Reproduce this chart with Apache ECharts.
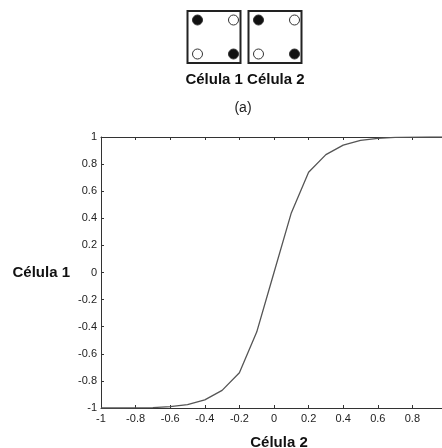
<!DOCTYPE html>
<html><head><meta charset="utf-8">
<script src="https://cdn.jsdelivr.net/npm/echarts@6/dist/echarts.min.js"></script>
<style>html,body{margin:0;padding:0;background:#fff}#c{width:442px;height:448px}</style>
</head><body><div id="c"></div>
<script>
const xValues = [-1,-0.9,-0.8,-0.7,-0.6,-0.5,-0.4,-0.3,-0.2,-0.1,0,0.1,0.2,0.3,0.4,0.5,0.6,0.7,0.8,0.9,1];
const yValues = [-1,-1,-0.999,-0.997,-0.99,-0.975,-0.94,-0.87,-0.74,-0.44,0,0.44,0.74,0.87,0.94,0.975,0.99,0.997,0.999,1,1];
const xTickLabels = {"-1":"-1","-0.8":"-0.8","-0.6":"-0.6","-0.4":"-0.4","-0.2":"-0.2","0":"0","0.2":"0.2","0.4":"0.4","0.6":"0.6","0.8":"0.8","1":"1"};
const yTickLabels = {"-1":"-1","-0.8":"-0.8","-0.6":"-0.6","-0.4":"-0.4","-0.2":"-0.2","0":"0","0.2":"0.2","0.4":"0.4","0.6":"0.6","0.8":"0.8","1":"1"};
const xName = "Célula 2";
const yName = "Célula 1";
const cellLabels = "Célula 1 Célula 2";
const caption = "(a)";

const FONT = "'Liberation Sans', Arial, sans-serif";
const fmt = (map) => (v) => { const k = String(Math.round(v*10)/10); return map[k] !== undefined ? map[k] : k; };
const chart = echarts.init(document.getElementById('c'));
const dots = [];
function cell(x0, fills) {
  dots.push({type:'rect', shape:{x:x0, y:11, width:53, height:52}, style:{fill:'#fff', stroke:'#222', lineWidth:2}});
  const pos = [[10,9],[46,9],[10,43],[46,43]];
  pos.forEach((p,i)=>dots.push({type:'circle', shape:{cx:x0+p[0], cy:11+p[1], r:5},
    style:{fill: fills[i] ? '#111' : '#fff', stroke:'#333', lineWidth:1}}));
}
cell(187.5, [1,0,0,1]);
cell(248.5, [1,0,0,1]);
dots.push({type:'text', x:245, y:80, style:{text:cellLabels, font:'bold 15px '+FONT, fill:'#111', textAlign:'center', textVerticalAlign:'middle'}});
dots.push({type:'text', x:243, y:108, style:{text:caption, font:'14px '+FONT, fill:'#222', textAlign:'center', textVerticalAlign:'middle'}});

const axisLine = {onZero:false, lineStyle:{color:'#333', width:1}};
chart.setOption({
  animation:false,
  backgroundColor:'#fff',
  graphic: dots,
  grid:{left:101, top:137, width:346, height:271, containLabel:false, outerBoundsMode:'none'},
  xAxis:[{
    type:'value', min:-1, max:1, interval:0.2, position:'bottom',
    axisLine:axisLine, axisTick:{inside:true, length:3, lineStyle:{color:'#333'}},
    splitLine:{show:false},
    axisLabel:{formatter:fmt(xTickLabels), fontFamily:FONT, fontSize:11, color:'#222', margin:5},
    name:xName, nameLocation:'middle', nameGap:27,
    nameTextStyle:{fontFamily:FONT, fontSize:15, fontWeight:'bold', color:'#111', padding:[0,0,0,10]}
  },{
    type:'value', min:-1, max:1, interval:0.2, position:'top',
    axisLine:axisLine, axisTick:{inside:true, length:3, lineStyle:{color:'#333'}},
    axisLabel:{show:false}, splitLine:{show:false}
  }],
  yAxis:[{
    type:'value', min:-1, max:1, interval:0.2, position:'left',
    axisLine:axisLine, axisTick:{inside:true, length:3, lineStyle:{color:'#333'}},
    splitLine:{show:false},
    axisLabel:{formatter:fmt(yTickLabels), fontFamily:FONT, fontSize:11, color:'#222', margin:4},
    name:yName, nameLocation:'middle', nameRotate:0, nameGap:31,
    nameTextStyle:{fontFamily:FONT, fontSize:15, fontWeight:'bold', color:'#111'}
  },{
    type:'value', min:-1, max:1, interval:0.2, position:'right',
    axisLine:axisLine, axisTick:{inside:true, length:3}, axisLabel:{show:false}, splitLine:{show:false}
  }],
  series:[{
    type:'line', xAxisIndex:0, yAxisIndex:0, showSymbol:false, smooth:false,
    lineStyle:{color:'#555', width:1.3},
    data: xValues.map((x,i)=>[x, yValues[i]])
  }]
});
</script></body></html>
